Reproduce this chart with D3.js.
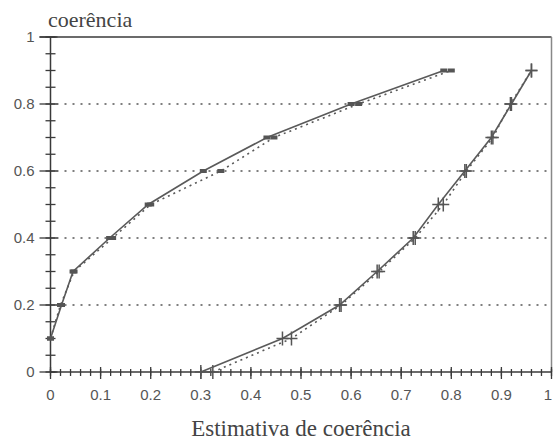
<!DOCTYPE html>
<html>
<head>
<meta charset="utf-8">
<script src="https://cdn.jsdelivr.net/npm/d3@7"></script>
<style>
  body { margin: 0; background: #fff; }
  svg { display: block; }
  .tick-label { font-family: "Liberation Sans", Arial, sans-serif; font-size: 15px; fill: #555; }
  .title { font-family: "Liberation Serif", "Times New Roman", serif; fill: #444; }
</style>
</head>
<body>
<svg id="chart" width="553" height="443"></svg>
<script>
// y levels shared by every series
const levels = [0.1, 0.2, 0.3, 0.4, 0.5, 0.6, 0.7, 0.8, 0.9]
const levelsRight = [0, 0.1, 0.2, 0.3, 0.4, 0.5, 0.6, 0.7, 0.8, 0.9]

// left curve: solid and dotted estimates
const leftSolidX = [0, 0.022, 0.045, 0.118, 0.195, 0.305, 0.432, 0.6, 0.785]
const leftDottedX = [0, 0.02, 0.047, 0.124, 0.2, 0.34, 0.446, 0.615, 0.8]

// right curve: solid and dotted estimates
const rightSolidX = [0.3, 0.463, 0.577, 0.652, 0.724, 0.774, 0.827, 0.88, 0.92, 0.96]
const rightDottedX = [0.324, 0.481, 0.58, 0.656, 0.728, 0.784, 0.83, 0.883, 0.918, 0.96]

const xTicks = [0, 0.1, 0.2, 0.3, 0.4, 0.5, 0.6, 0.7, 0.8, 0.9, 1]
const yTicks = [0, 0.2, 0.4, 0.6, 0.8, 1]
const gridLevels = [0.2, 0.4, 0.6, 0.8]

const svg = d3.select('#chart')
const x = d3.scaleLinear().domain([0, 1]).range([50.5, 551.5])
const y = d3.scaleLinear().domain([0, 1]).range([372, 37])

const axisColor = '#3a3a3a'
const lineColor = '#5a5a5a'

// dotted grid
svg.append('g')
  .selectAll('line')
  .data(gridLevels)
  .join('line')
  .attr('x1', x(0) + 6).attr('x2', x(1))
  .attr('y1', d => y(d)).attr('y2', d => y(d))
  .attr('stroke', '#555')
  .attr('stroke-width', 1.3)
  .attr('stroke-dasharray', '2,6')

// frame: top and right
svg.append('line')
  .attr('x1', x(0) - 11).attr('x2', x(1))
  .attr('y1', y(1)).attr('y2', y(1))
  .attr('stroke', axisColor).attr('stroke-width', 1.5)
svg.append('line')
  .attr('x1', x(1)).attr('x2', x(1))
  .attr('y1', y(1)).attr('y2', y(0))
  .attr('stroke', '#888').attr('stroke-width', 1.5)

// y axis
const gy = svg.append('g').attr('transform', `translate(${x(0)},0)`)
gy.append('line').attr('y1', y(0)).attr('y2', y(1)).attr('stroke', axisColor).attr('stroke-width', 1.5)
gy.selectAll('.minor')
  .data(d3.range(0, 1.0001, 0.05))
  .join('line')
  .attr('x1', -5).attr('x2', 5)
  .attr('y1', d => y(d)).attr('y2', d => y(d))
  .attr('stroke', axisColor).attr('stroke-width', 1.3)
gy.selectAll('.major')
  .data(yTicks)
  .join('line')
  .attr('x1', -11).attr('x2', 7)
  .attr('y1', d => y(d)).attr('y2', d => y(d))
  .attr('stroke', axisColor).attr('stroke-width', 1.3)
gy.selectAll('text')
  .data(yTicks)
  .join('text')
  .attr('class', 'tick-label')
  .attr('x', -16)
  .attr('y', d => y(d) + 5)
  .attr('text-anchor', 'end')
  .text(d => d3.format('~g')(d))

// x axis
const gx = svg.append('g').attr('transform', `translate(0,${y(0)})`)
gx.append('line').attr('x1', x(0)).attr('x2', x(1)).attr('stroke', axisColor).attr('stroke-width', 1.5)
gx.selectAll('.minor')
  .data(d3.range(0, 1.0001, 0.02))
  .join('line')
  .attr('x1', d => x(d)).attr('x2', d => x(d))
  .attr('y1', -3).attr('y2', 4)
  .attr('stroke', axisColor).attr('stroke-width', 1.3)
gx.selectAll('.major')
  .data(xTicks)
  .join('line')
  .attr('x1', d => x(d)).attr('x2', d => x(d))
  .attr('y1', -5).attr('y2', 7)
  .attr('stroke', axisColor).attr('stroke-width', 1.3)
gx.selectAll('text')
  .data(xTicks)
  .join('text')
  .attr('class', 'tick-label')
  .attr('x', d => Math.min(x(d), 548))
  .attr('y', 28)
  .attr('text-anchor', 'middle')
  .text(d => d3.format('~g')(d))

// titles
svg.append('text').attr('class', 'title')
  .attr('x', 48).attr('y', 27)
  .style('font-size', '22px')
  .text('coerência')
svg.append('text').attr('class', 'title')
  .attr('x', 301).attr('y', 436)
  .attr('text-anchor', 'middle')
  .style('font-size', '23px')
  .text('Estimativa de coerência')

// series
const line = d3.line().x(d => x(d[0])).y(d => y(d[1]))
const zip = (xs, ys) => xs.map((v, i) => [v, ys[i]])

const series = [
  { pts: zip(leftDottedX, levels), dash: '2,4', mark: 'rect' },
  { pts: zip(leftSolidX, levels), dash: null, mark: 'rect' },
  { pts: zip(rightDottedX, levelsRight), dash: '2,4', mark: 'plus' },
  { pts: zip(rightSolidX, levelsRight), dash: null, mark: 'plus' },
]

series.forEach(s => {
  svg.append('path')
    .attr('d', line(s.pts))
    .attr('fill', 'none')
    .attr('stroke', lineColor)
    .attr('stroke-width', 1.6)
    .attr('stroke-dasharray', s.dash)
  const g = svg.append('g')
  if (s.mark === 'rect') {
    g.selectAll('rect')
      .data(s.pts)
      .join('rect')
      .attr('x', d => x(d[0]) - 3.5)
      .attr('y', d => y(d[1]) - 2)
      .attr('width', 7).attr('height', 4)
      .attr('fill', '#555')
  } else {
    g.selectAll('path')
      .data(s.pts)
      .join('path')
      .attr('transform', d => `translate(${x(d[0])},${y(d[1])})`)
      .attr('d', 'M-6,0H6M0,-7V7')
      .attr('stroke', '#555')
      .attr('stroke-width', 1.5)
  }
})
</script>
</body>
</html>
